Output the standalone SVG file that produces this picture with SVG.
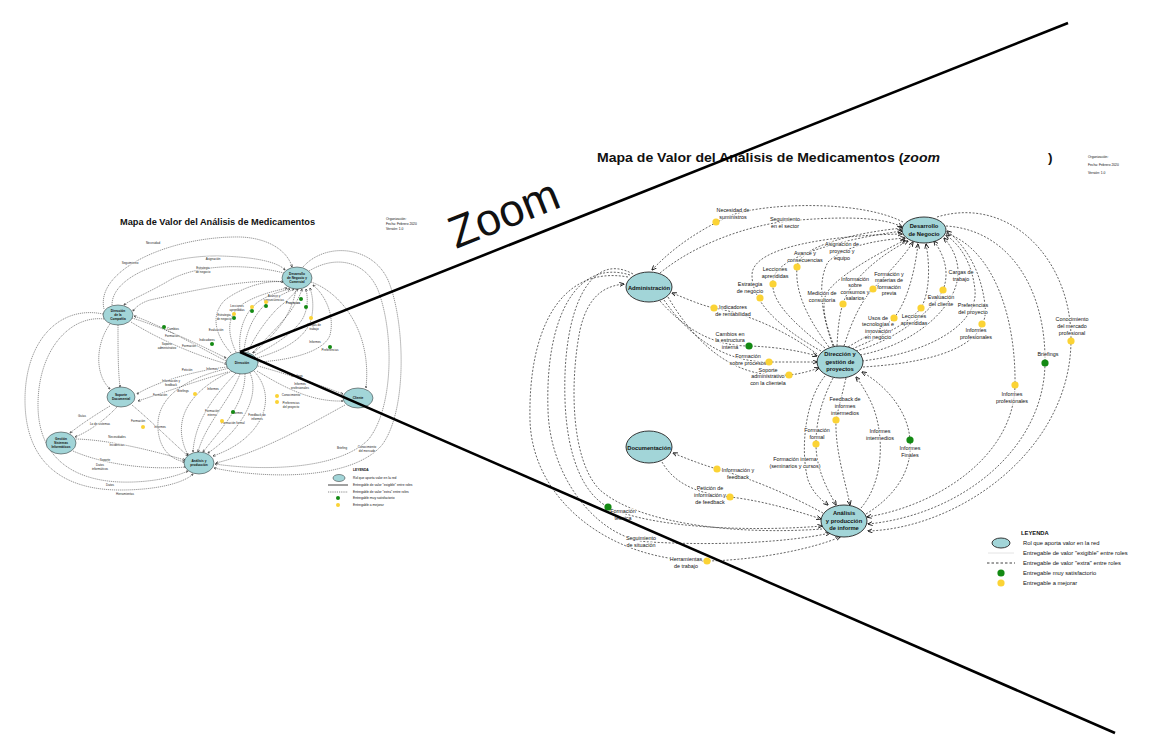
<svg xmlns="http://www.w3.org/2000/svg" width="1167" height="740" viewBox="0 0 1167 740">
<style>
.bg{fill:#fff}
.n{fill:#a2d5d8;stroke:#222;stroke-width:0.9}
.ln{fill:#a2d5d8;stroke:#222;stroke-width:0.5}
.c{fill:none;stroke:#111;stroke-width:0.65;stroke-dasharray:2 1.6}
.cl{fill:none;stroke:#111;stroke-width:0.45;stroke-dasharray:1.2 0.8}
.t{font-family:"Liberation Sans",Arial,sans-serif;font-size:5.4px;fill:#111;text-anchor:middle;paint-order:stroke;stroke:#fff;stroke-width:1.6px;stroke-linejoin:round}
.nt{font-family:"Liberation Sans",Arial,sans-serif;font-size:5.8px;font-weight:bold;fill:#111;text-anchor:middle}
.tl{font-family:"Liberation Sans",Arial,sans-serif;font-size:3px;fill:#222;text-anchor:middle;paint-order:stroke;stroke:#fff;stroke-width:0.8px}
.ntl{font-family:"Liberation Sans",Arial,sans-serif;font-size:3.2px;font-weight:bold;fill:#111;text-anchor:middle}
.g{fill:#138a13}
.y{fill:#fbd335}
.lg{font-family:"Liberation Sans",Arial,sans-serif;font-size:5.8px;fill:#111}
.lgs{font-family:"Liberation Sans",Arial,sans-serif;font-size:3.3px;fill:#111}
.zl{stroke:#000;stroke-width:2.6;fill:none}
</style>
<defs>
<marker id="a" viewBox="0 0 10 10" refX="9" refY="5" markerWidth="5" markerHeight="5" markerUnits="userSpaceOnUse" orient="auto">
<path d="M0,1 L10,5 L0,9" fill="none" stroke="#000" stroke-width="1.6"/>
</marker>
<marker id="s" viewBox="0 0 10 10" refX="9" refY="5" markerWidth="2.6" markerHeight="2.6" markerUnits="userSpaceOnUse" orient="auto">
<path d="M0,1 L10,5 L0,9" fill="none" stroke="#000" stroke-width="1.8"/>
</marker>
</defs>
<rect class="bg" x="0" y="0" width="1167" height="740"/>

<!-- ================= LEFT SMALL DIAGRAM ================= -->
<g id="left-title">
<text x="120" y="225" font-family="Liberation Sans,Arial,sans-serif" font-size="8.3" font-weight="bold" fill="#111" textLength="195" lengthAdjust="spacingAndGlyphs">Mapa de Valor del Análisis de Medicamentos</text>
<text class="lgs" x="386" y="220">Organización:</text>
<text class="lgs" x="386" y="225">Fecha: Febrero 2020</text>
<text class="lgs" x="386" y="230">Versión: 1.0</text>
</g>

<g id="left-connectors" marker-end="url(#s)">
<path class="cl" d="M236,352 C228,335 226,318 240,306 C255,295 275,291 287,288"/>
<path class="cl" d="M240,351 C238,330 245,312 258,302 C270,294 282,291 290,289"/>
<path class="cl" d="M244,351 C246,330 255,313 268,302 C278,296 288,292 294,289"/>
<path class="cl" d="M248,352 C255,335 268,318 278,308 C288,300 294,294 298,289"/>
<path class="cl" d="M252,353 C265,340 280,325 290,312 C296,303 300,296 302,289"/>
<path class="cl" d="M255,355 C275,345 295,332 303,318 C308,308 308,298 306,289"/>
<path class="cl" d="M257,358 C285,350 305,338 311,320 C314,308 313,297 310,288"/>
<path class="cl" d="M258,362 C295,360 325,350 330,335 C335,315 325,295 313,285"/>
<path class="cl" d="M296,289 C292,315 275,335 253,353"/>
<path class="cl" d="M231,353 C215,335 210,315 225,300 C245,285 270,280 283,282"/>
<path class="cl" d="M104,309 C95,270 170,236 240,237 C270,238 288,252 292,267"/>
<path class="cl" d="M112,305 C112,275 170,255 220,256 C255,257 278,262 285,270"/>
<path class="cl" d="M284,273 C240,262 195,266 170,280 C150,292 130,300 124,305"/>
<path class="cl" d="M285,282 C250,278 195,290 150,300 C140,303 135,308 133,311"/>
<path class="cl" d="M303,267 C325,242 372,245 388,280 C405,320 408,410 382,445 C350,482 260,478 214,468"/>
<path class="cl" d="M309,271 C335,255 365,260 378,290 C395,335 393,410 368,440 C335,472 255,470 215,464"/>
<path class="cl" d="M311,282 C340,292 372,330 366,388"/>
<path class="cl" d="M132,318 C165,328 200,345 226,358"/>
<path class="cl" d="M131,322 C160,340 195,355 227,364"/>
<path class="cl" d="M226,361 C195,345 160,325 134,316"/>
<path class="cl" d="M110,324 C95,345 95,375 110,389"/>
<path class="cl" d="M118,325 C118,350 118,370 120,387"/>
<path class="cl" d="M103,314 C60,305 25,340 25,400 C25,460 60,490 120,490 C160,490 185,482 193,474"/>
<path class="cl" d="M104,319 C70,315 38,350 38,405 C38,455 70,480 120,482 C150,483 175,477 188,471"/>
<path class="cl" d="M227,367 C200,370 160,380 137,394"/>
<path class="cl" d="M228,372 C200,380 165,392 138,401"/>
<path class="cl" d="M258,366 C290,375 320,385 343,394"/>
<path class="cl" d="M257,371 C285,388 312,402 343,401"/>
<path class="cl" d="M236,373 C215,395 195,420 193,452"/>
<path class="cl" d="M240,374 C230,400 205,425 198,452"/>
<path class="cl" d="M245,374 C245,405 220,430 203,452"/>
<path class="cl" d="M250,373 C262,400 235,435 208,453"/>
<path class="cl" d="M254,371 C280,400 260,440 213,456"/>
<path class="cl" d="M232,371 C190,390 170,420 188,455"/>
<path class="cl" d="M230,368 C175,380 150,405 160,440 C165,455 175,460 185,462"/>
<path class="cl" d="M110,406 C95,415 80,425 70,433"/>
<path class="cl" d="M117,407 C105,420 88,432 75,437"/>
<path class="cl" d="M132,405 C150,420 170,440 188,456"/>
<path class="cl" d="M76,439 C110,440 150,450 185,460"/>
<path class="cl" d="M73,451 C105,465 150,470 186,467"/>
<path class="cl" d="M345,405 C300,430 260,452 216,463"/>
</g>

<g id="left-labels">
<text class="tl" x="153" y="244">Necesidad</text>
<text class="tl" x="130" y="264">Seguimiento</text>
<text class="tl" x="213" y="260">Asignación</text>
<text class="tl" x="203" y="269">Estrategia</text>
<text class="tl" x="203" y="273">de negocio</text>
<text class="tl" x="173" y="330">Cambios</text>
<text class="tl" x="172" y="337">Formación</text>
<text class="tl" x="167" y="345">Soporte</text>
<text class="tl" x="167" y="349">administrativo</text>
<text class="tl" x="207" y="341">Indicadores</text>
<text class="tl" x="274" y="297">Avance y</text>
<text class="tl" x="274" y="301">consecuencias</text>
<text class="tl" x="237" y="307">Lecciones</text>
<text class="tl" x="237" y="311">aprendidas</text>
<text class="tl" x="224" y="316">Estrategia</text>
<text class="tl" x="224" y="320">de negocio</text>
<text class="tl" x="293" y="304" font-weight="bold">Proyectos</text>
<text class="tl" x="314" y="326">Cargas de</text>
<text class="tl" x="314" y="330">trabajo</text>
<text class="tl" x="315" y="343">Informes</text>
<text class="tl" x="330" y="351">Preferencias</text>
<text class="tl" x="216" y="331">Evaluación</text>
<text class="tl" x="189" y="347">Formación</text>
<text class="tl" x="212" y="370">Informes</text>
<text class="tl" x="171" y="382">Información y</text>
<text class="tl" x="171" y="386">feedback</text>
<text class="tl" x="187" y="371">Petición</text>
<text class="tl" x="183" y="392">Briefings</text>
<text class="tl" x="160" y="396">Formación</text>
<text class="tl" x="213" y="390">Informes</text>
<text class="tl" x="297" y="377">Briefings</text>
<text class="tl" x="300" y="385">Informes</text>
<text class="tl" x="300" y="389">profesionales</text>
<text class="tl" x="291" y="396">Conocimiento</text>
<text class="tl" x="291" y="404">Preferencias</text>
<text class="tl" x="291" y="408">del proyecto</text>
<text class="tl" x="237" y="414">Informes</text>
<text class="tl" x="212" y="412">Formación</text>
<text class="tl" x="212" y="416">interna</text>
<text class="tl" x="233" y="424">Formación formal</text>
<text class="tl" x="257" y="416">Feedback de</text>
<text class="tl" x="257" y="420">informes</text>
<text class="tl" x="138" y="422">Formación</text>
<text class="tl" x="160" y="428">Informes</text>
<text class="tl" x="82" y="417">Guías</text>
<text class="tl" x="100" y="425">Lo de sistemas</text>
<text class="tl" x="117" y="438">Necesidades</text>
<text class="tl" x="117" y="446">Incidencias</text>
<text class="tl" x="105" y="461">Soporte</text>
<text class="tl" x="100" y="466">Datos</text>
<text class="tl" x="100" y="470">informáticos</text>
<text class="tl" x="110" y="486">Datos</text>
<text class="tl" x="125" y="495">Herramientas</text>
<text class="tl" x="342" y="449">Briefing</text>
<text class="tl" x="367" y="448">Conocimiento</text>
<text class="tl" x="367" y="452">del mercado</text>
</g>

<g id="left-dots">
<circle class="g" cx="164" cy="327" r="2"/>
<circle class="g" cx="212" cy="344" r="2"/>
<circle class="y" cx="234" cy="314" r="2"/>
<circle class="g" cx="234" cy="318" r="2"/>
<circle class="y" cx="252" cy="307" r="2"/>
<circle class="g" cx="252" cy="311" r="2"/>
<circle class="y" cx="266" cy="302" r="2"/>
<circle class="g" cx="266" cy="306" r="2"/>
<circle class="g" cx="301" cy="299" r="2"/>
<circle class="g" cx="306" cy="307" r="2"/>
<circle class="y" cx="311" cy="318" r="2"/>
<circle class="g" cx="330" cy="347" r="2"/>
<circle class="y" cx="195" cy="394" r="2"/>
<circle class="y" cx="277" cy="396" r="2"/>
<circle class="y" cx="277" cy="402" r="2"/>
<circle class="g" cx="233" cy="412" r="2"/>
<circle class="y" cx="222" cy="421" r="2"/>
<circle class="y" cx="143" cy="427" r="2"/>
</g>

<g id="l-desarrollo">
<ellipse class="ln" cx="297" cy="278" rx="15" ry="11"/>
<text class="ntl" x="297" y="275">Desarrollo</text>
<text class="ntl" x="297" y="279">de Negocio y</text>
<text class="ntl" x="297" y="283">Comercial</text>
</g>
<g id="l-direccion-comp">
<ellipse class="ln" cx="118" cy="315" rx="15" ry="10"/>
<text class="ntl" x="118" y="312">Dirección</text>
<text class="ntl" x="118" y="316">de la</text>
<text class="ntl" x="118" y="320">Compañía</text>
</g>
<g id="l-hub">
<ellipse class="ln" cx="242" cy="363" rx="16" ry="11"/>
<text class="ntl" x="242" y="364">Dirección</text>
</g>
<g id="l-soporte">
<ellipse class="ln" cx="121" cy="397" rx="14" ry="10"/>
<text class="ntl" x="121" y="396">Soporte</text>
<text class="ntl" x="121" y="400">Documental</text>
</g>
<g id="l-cliente">
<ellipse class="ln" cx="358" cy="398" rx="15" ry="10"/>
<text class="ntl" x="358" y="399">Cliente</text>
</g>
<g id="l-sistemas">
<ellipse class="ln" cx="61" cy="443" rx="15" ry="11"/>
<text class="ntl" x="61" y="440">Gestión</text>
<text class="ntl" x="61" y="444">Sistemas</text>
<text class="ntl" x="61" y="448">Informáticos</text>
</g>
<g id="l-analisis">
<ellipse class="ln" cx="199" cy="463" rx="15" ry="11"/>
<text class="ntl" x="199" y="462">Análisis y</text>
<text class="ntl" x="199" y="466">producción</text>
</g>

<g id="left-legend">
<text class="lgs" x="353" y="471" font-weight="bold">LEYENDA</text>
<ellipse class="ln" cx="339" cy="478" rx="6" ry="3.5"/>
<text class="lgs" x="353" y="479">Rol que aporta valor en la red</text>
<line x1="328" y1="485" x2="348" y2="485" stroke="#111" stroke-width="0.8"/>
<text class="lgs" x="353" y="486">Entregable de valor "exigible" entre roles</text>
<line x1="328" y1="492" x2="348" y2="492" stroke="#111" stroke-width="0.5" stroke-dasharray="1.2 1"/>
<text class="lgs" x="353" y="493">Entregable de valor "extra" entre roles</text>
<circle class="g" cx="338" cy="498" r="2"/>
<text class="lgs" x="353" y="499">Entregable muy satisfactorio</text>
<circle class="y" cx="338" cy="505" r="2"/>
<text class="lgs" x="353" y="506">Entregable a mejorar</text>
</g>

<!-- ================= RIGHT ZOOMED DIAGRAM ================= -->
<g id="right-title">
<text x="597" y="162" font-family="Liberation Sans,Arial,sans-serif" font-size="13.5" font-weight="bold" fill="#111" textLength="343" lengthAdjust="spacingAndGlyphs">Mapa de Valor del Análisis de Medicamentos (<tspan font-style="italic">zoom</tspan></text>
<text x="1048" y="162" font-family="Liberation Sans,Arial,sans-serif" font-size="13.5" font-weight="bold" fill="#111">)</text>
<text class="lgs" x="1088" y="158" font-size="6.3">Organización:</text>
<text class="lgs" x="1088" y="166" font-size="6.3">Fecha: Febrero 2020</text>
<text class="lgs" x="1088" y="174" font-size="6.3">Versión: 1.0</text>
</g>

<g id="connectors" marker-end="url(#a)">
<path class="c" d="M903,222 C860,200 770,203 735,214 C715,222 680,240 652,270"/>
<path class="c" d="M660,273 C700,240 760,222 800,220 C850,216 885,218 902,227"/>
<path class="c" d="M817,354 C785,330 745,313 714,308 C700,305 685,298 672,293"/>
<path class="c" d="M660,301 C690,335 720,346 749,346 C778,347 800,351 817,356"/>
<path class="c" d="M664,300 C700,352 740,362 769,362 C790,362 806,362 817,362"/>
<path class="c" d="M668,297 C712,372 760,377 789,375 C800,374 810,371 819,368"/>
<path class="c" d="M821,351 C775,325 752,300 752,275 C752,245 840,235 902,234"/>
<path class="c" d="M825,348 C790,320 770,300 773,280 C776,255 850,238 902,231"/>
<path class="c" d="M829,347 C805,315 795,290 797,267 C799,245 860,232 903,228"/>
<path class="c" d="M833,346 C820,310 818,280 828,262 C845,245 880,240 905,238"/>
<path class="c" d="M834,346 C826,325 822,310 825,297 C830,280 875,255 905,240"/>
<path class="c" d="M837,346 C838,325 840,312 843,304 C850,280 880,255 908,241"/>
<path class="c" d="M844,346 C852,320 862,300 873,289 C887,274 903,258 913,242"/>
<path class="c" d="M848,347 C868,335 885,327 894,318 C908,300 915,270 918,244"/>
<path class="c" d="M852,349 C885,335 910,322 921,308 C930,292 930,265 926,244"/>
<path class="c" d="M856,351 C895,340 932,312 943,290 C950,272 944,255 934,241"/>
<path class="c" d="M860,355 C915,345 960,305 958,270 C957,255 950,245 944,238"/>
<path class="c" d="M862,361 C935,352 978,322 975,290 C972,262 960,245 946,235"/>
<path class="c" d="M863,367 C945,362 990,342 985,305 C981,270 965,245 947,231"/>
<path class="c" d="M937,217 C1010,195 1072,260 1071,341 C1070,450 960,528 868,531"/>
<path class="c" d="M946,226 C1010,230 1046,290 1045,363 C1044,450 960,515 868,524"/>
<path class="c" d="M946,233 C995,250 1016,320 1015,385 C1014,455 940,505 867,517"/>
<path class="c" d="M825,376 C805,400 800,450 808,480 C814,495 822,500 828,505"/>
<path class="c" d="M833,378 C822,400 816,420 816,444 C816,470 828,490 836,505"/>
<path class="c" d="M846,378 C842,395 838,410 836,420 C835,450 845,480 850,505"/>
<path class="c" d="M861,508 C885,480 885,430 870,400 C865,390 860,382 856,377"/>
<path class="c" d="M866,514 C905,490 912,460 910,440 C908,410 885,385 862,372"/>
<path class="c" d="M823,513 C790,495 750,478 717,469 C700,464 685,458 673,453"/>
<path class="c" d="M662,462 C675,485 700,494 730,497 C765,501 800,512 821,519"/>
<path class="c" d="M822,529 C740,535 640,525 600,490 C570,460 570,380 580,330 C588,295 605,286 624,284"/>
<path class="c" d="M628,277 C560,265 528,330 530,420 C532,500 610,562 707,561 C760,560 815,548 840,537"/>
<path class="c" d="M630,275 C575,258 545,320 548,410 C550,480 600,540 650,542 C720,546 790,542 830,533"/>
<path class="c" d="M633,274 C590,250 562,310 565,400 C567,460 585,495 608,507 C650,528 750,532 822,526"/>
</g>

<g id="labels">
<text class="t" x="733" y="212">Necesidad de<tspan x="733" dy="7">suministros</tspan></text>
<text class="t" x="785" y="221">Seguimiento<tspan x="785" dy="7">en el sector</tspan></text>
<text class="t" x="842" y="246">Asignación de<tspan x="842" dy="7">proyecto y</tspan><tspan x="842" dy="7">equipo</tspan></text>
<text class="t" x="805" y="255">Avance y<tspan x="805" dy="7">consecuencias</tspan></text>
<text class="t" x="775" y="271">Lecciones<tspan x="775" dy="7">aprendidas</tspan></text>
<text class="t" x="750" y="286">Estrategia<tspan x="750" dy="7">de negocio</tspan></text>
<text class="t" x="855" y="281">Información<tspan x="855" dy="6.3">sobre</tspan><tspan x="855" dy="6.3">consumos y</tspan><tspan x="855" dy="6.3">salarios</tspan></text>
<text class="t" x="822" y="295">Medición de<tspan x="822" dy="7">consultoría</tspan></text>
<text class="t" x="889" y="276">Formación y<tspan x="889" dy="6.3">materias de</tspan><tspan x="889" dy="6.3">formación</tspan><tspan x="889" dy="6.3">previa</tspan></text>
<text class="t" x="961" y="274">Cargas de<tspan x="961" dy="7">trabajo</tspan></text>
<text class="t" x="941" y="299">Evaluación<tspan x="941" dy="7">del cliente</tspan></text>
<text class="t" x="914" y="318">Lecciones<tspan x="914" dy="7">aprendidas</tspan></text>
<text class="t" x="878" y="320">Usos de<tspan x="878" dy="6.3">tecnologías e</tspan><tspan x="878" dy="6.3">innovación</tspan><tspan x="878" dy="6.3">en negocio</tspan></text>
<text class="t" x="973" y="307">Preferencias<tspan x="973" dy="7">del proyecto</tspan></text>
<text class="t" x="976" y="332">Informes<tspan x="976" dy="7">profesionales</tspan></text>
<text class="t" x="1072" y="321">Conocimiento<tspan x="1072" dy="7">del mercado</tspan><tspan x="1072" dy="7">profesional</tspan></text>
<text class="t" x="1048" y="356">Briefings</text>
<text class="t" x="1012" y="396">Informes<tspan x="1012" dy="7">profesionales</tspan></text>
<text class="t" x="910" y="450">Informes<tspan x="910" dy="7">Finales</tspan></text>
<text class="t" x="880" y="433">Informes<tspan x="880" dy="7">intermedios</tspan></text>
<text class="t" x="845" y="401">Feedback de<tspan x="845" dy="7">informes</tspan><tspan x="845" dy="7">intermedios</tspan></text>
<text class="t" x="817" y="432">Formación<tspan x="817" dy="7">formal</tspan></text>
<text class="t" x="795" y="461">Formación interna<tspan x="795" dy="7">(seminarios y cursos)</tspan></text>
<text class="t" x="738" y="472">Información y<tspan x="738" dy="7">feedback</tspan></text>
<text class="t" x="710" y="490">Petición de<tspan x="710" dy="7">información y</tspan><tspan x="710" dy="7">de feedback</tspan></text>
<text class="t" x="623" y="513">Formación<tspan x="623" dy="7">técnica</tspan></text>
<text class="t" x="641" y="540">Seguimiento<tspan x="641" dy="7">de situación</tspan></text>
<text class="t" x="686" y="561">Herramientas<tspan x="686" dy="7">de trabajo</tspan></text>
<text class="t" x="733" y="309">Indicadores<tspan x="733" dy="7">de rentabilidad</tspan></text>
<text class="t" x="730" y="336">Cambios en<tspan x="730" dy="6.3">la estructura</tspan><tspan x="730" dy="6.3">interna</tspan></text>
<text class="t" x="748" y="358">Formación<tspan x="748" dy="7">sobre procesos</tspan></text>
<text class="t" x="768" y="372">Soporte<tspan x="768" dy="6.3">administrativo</tspan><tspan x="768" dy="6.3">con la clientela</tspan></text>
</g>

<g id="dots">
<circle class="y" cx="716" cy="222" r="3.6"/>
<circle class="y" cx="760" cy="298" r="3.6"/>
<circle class="y" cx="773" cy="284" r="3.6"/>
<circle class="y" cx="797" cy="267" r="3.6"/>
<circle class="y" cx="843" cy="304" r="3.6"/>
<circle class="y" cx="873" cy="289" r="3.6"/>
<circle class="y" cx="894" cy="318" r="3.6"/>
<circle class="y" cx="921" cy="308" r="3.6"/>
<circle class="y" cx="943" cy="290" r="3.6"/>
<circle class="y" cx="982" cy="324" r="3.6"/>
<circle class="y" cx="1071" cy="341" r="3.6"/>
<circle class="g" cx="1045" cy="363" r="3.6"/>
<circle class="y" cx="1015" cy="385" r="3.6"/>
<circle class="g" cx="910" cy="440" r="3.6"/>
<circle class="y" cx="836" cy="420" r="3.6"/>
<circle class="y" cx="816" cy="444" r="3.6"/>
<circle class="y" cx="714" cy="308" r="3.6"/>
<circle class="g" cx="749" cy="346" r="3.6"/>
<circle class="y" cx="769" cy="362" r="3.6"/>
<circle class="y" cx="789" cy="375" r="3.6"/>
<circle class="y" cx="717" cy="469" r="3.6"/>
<circle class="y" cx="730" cy="497" r="3.6"/>
<circle class="g" cx="608" cy="507" r="3.6"/>
<circle class="y" cx="707" cy="561" r="3.6"/>
</g>

<g id="n-administracion">
<ellipse class="n" cx="649" cy="287" rx="23" ry="15"/>
<text class="nt" x="649" y="289.5">Administración</text>
</g>
<g id="n-desarrollo">
<ellipse class="n" cx="924" cy="230" rx="22" ry="13"/>
<text class="nt" x="924" y="228">Desarrollo</text>
<text class="nt" x="924" y="235.5">de Negocio</text>
</g>
<g id="n-direccion">
<ellipse class="n" cx="840" cy="362" rx="23" ry="16"/>
<text class="nt" x="840" y="356">Dirección y</text>
<text class="nt" x="840" y="363.5">gestión de</text>
<text class="nt" x="840" y="371">proyectos</text>
</g>
<g id="n-documentacion">
<ellipse class="n" cx="649" cy="447" rx="23" ry="16"/>
<text class="nt" x="649" y="449.5">Documentación</text>
</g>
<g id="n-analisis">
<ellipse class="n" cx="844" cy="521" rx="23" ry="16"/>
<text class="nt" x="844" y="515">Análisis</text>
<text class="nt" x="844" y="522.5">y producción</text>
<text class="nt" x="844" y="530">de informe</text>
</g>

<g id="right-legend">
<text class="lg" x="1021" y="535" font-weight="bold">LEYENDA</text>
<ellipse class="n" cx="1001" cy="543" rx="9" ry="5"/>
<text class="lg" x="1023" y="545">Rol que aporta valor en la red</text>
<line x1="988" y1="553" x2="1014" y2="553" stroke="#ddd" stroke-width="0.8"/>
<text class="lg" x="1023" y="555">Entregable de valor "exigible" entre roles</text>
<line x1="987" y1="563" x2="1015" y2="563" stroke="#111" stroke-width="0.8" stroke-dasharray="2.5 2"/>
<text class="lg" x="1023" y="565">Entregable de valor "extra" entre roles</text>
<circle class="g" cx="1001" cy="573" r="3.6"/>
<text class="lg" x="1023" y="575">Entregable muy satisfactorio</text>
<circle class="y" cx="1001" cy="583" r="3.6"/>
<text class="lg" x="1023" y="585">Entregable a mejorar</text>
</g>

<!-- ================= ZOOM LINES ================= -->
<g id="zoom">
<line class="zl" x1="240" y1="352" x2="1068" y2="23"/>
<line class="zl" x1="240" y1="352" x2="1115" y2="733"/>
<text x="0" y="0" transform="translate(456,249) rotate(-21.7)" font-family="Liberation Sans,Arial,sans-serif" font-size="45" fill="#111">Zoom</text>
</g>
</svg>
